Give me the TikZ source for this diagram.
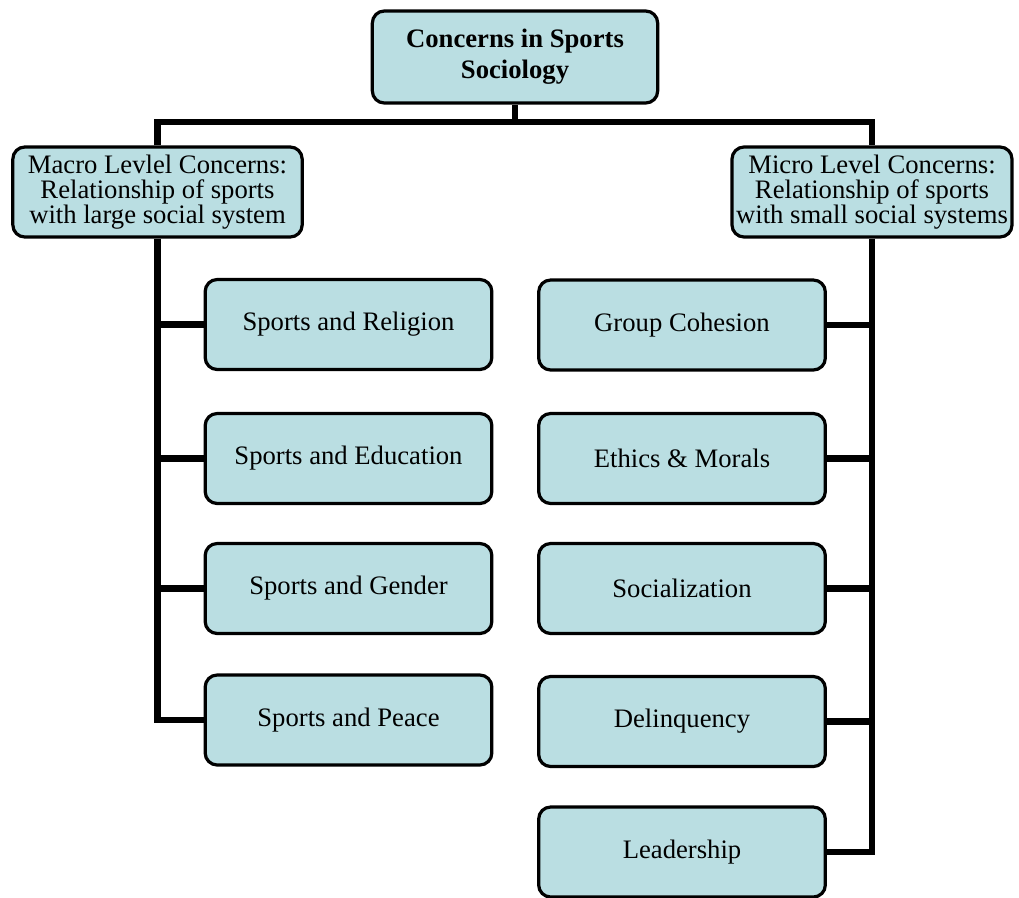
\documentclass[tikz,border=0pt]{standalone}
\usepackage{fontspec}
\setmainfont{Liberation Serif}

\definecolor{boxfill}{RGB}{186,222,226}

\begin{document}
\begin{tikzpicture}[x=0.75pt,y=-0.75pt,
  box/.style={draw,line width=2.4pt,rounded corners=9pt,fill=boxfill,align=center,
    inner sep=2pt,font=\fontsize{20}{19}\selectfont},
  topic/.style={box,minimum width=215pt,minimum height=67.5pt},
  link/.style={line width=4.8pt}]
\useasboundingbox (0,0) rectangle (1019,897);
\node[box,minimum width=214pt,minimum height=69pt,font=\bfseries\fontsize{20}{23}\selectfont]
  (root) at (515,57) {Concerns in Sports\\Sociology};
\node[box,minimum width=217pt,minimum height=67.5pt] (macro) at (157.5,192)
  {Macro Levlel Concerns:\\Relationship of sports\\with large social system};
\node[box,minimum width=210pt,minimum height=67.5pt] (micro) at (872,192)
  {Micro Level Concerns:\\Relationship of sports\\with small social systems};
% macro side
\node[topic] (religion) at (348.5,324.5) {Sports and Religion};
\node[topic] (education) at (348.5,458.5) {Sports and Education};
\node[topic] (gender) at (348.5,588.5) {Sports and Gender};
\node[topic] (peace) at (348.5,720) {Sports and Peace};
% micro side
\node[topic] (cohesion) at (682,325) {Group Cohesion};
\node[topic] (ethics) at (682,458.5) {Ethics \& Morals};
\node[topic] (social) at (682,588.5) {Socialization};
\node[topic] (delinq) at (682,721.5) {Delinquency};
\node[topic] (leader) at (682,852) {Leadership};
\coordinate (hub) at (515,122);
\draw[link] (root.south) -- (hub);
\draw[link] (macro.north) |- (hub) -| (micro.north);
\draw[link] (macro.south) |- (peace.west);
\foreach \n in {religion,education,gender}
  \draw[link] (\n.west) -- (\n.west -| macro.south);
\draw[link] (micro.south) |- (leader.east);
\foreach \n in {cohesion,ethics,social,delinq}
  \draw[link] (\n.east) -- (\n.east -| micro.south);
\end{tikzpicture}
\end{document}
